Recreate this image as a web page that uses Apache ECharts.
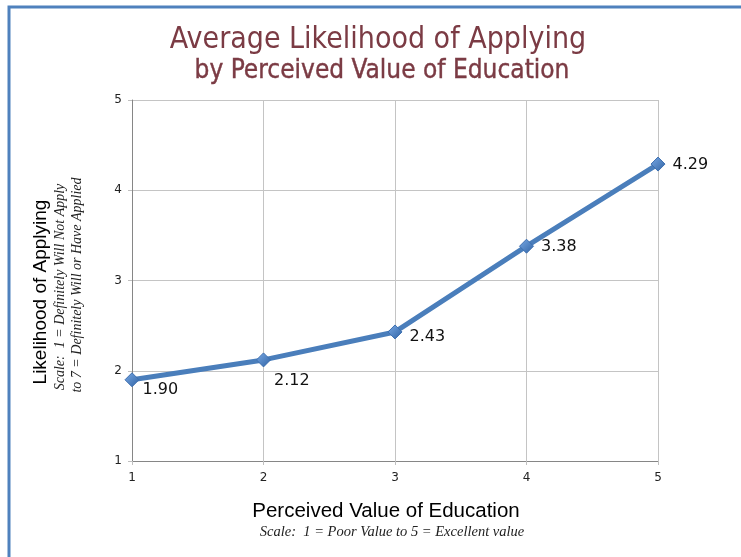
<!DOCTYPE html>
<html>
<head>
<meta charset="utf-8">
<script src="https://cdn.jsdelivr.net/npm/echarts@6/dist/echarts.min.js"></script>
<style>
  html, body { margin: 0; padding: 0; background: #ffffff; }
  #chart { width: 741px; height: 557px; }
</style>
</head>
<body>
<div id="chart"></div>
<script>
// Perceived value of education (1 = poor ... 5 = excellent)
const valueLevels = [1, 2, 3, 4, 5];
// Average likelihood of applying at each level
const likelihood = [1.90, 2.12, 2.43, 3.38, 4.29];
// Axis ranges
const xTicks = [1, 2, 3, 4, 5];
const yTicks = [1, 2, 3, 4, 5];

// Vertical nudge of each value label relative to its marker
const labelDrop = [10, 21, 5, 1, 1];

const points = valueLevels.map((x, i) => ({
  value: [x, likelihood[i]],
  label: { position: 'right', offset: [i < 2 ? -2 : 2, labelDrop[i]] }
}));

const chart = echarts.init(document.getElementById('chart'), null, { renderer: 'canvas' });

chart.setOption({
  backgroundColor: '#ffffff',
  animation: false,
  title: [
    {
      text: 'Average Likelihood of Applying',
      left: 373, top: 20, textAlign: 'center',
      textStyle: { color: '#7b3b44', fontSize: 30, fontWeight: 'normal', fontFamily: 'DejaVu Sans Condensed, DejaVu Sans, sans-serif' }
    },
    {
      text: 'by Perceived Value of Education',
      left: 377, top: 53, textAlign: 'center',
      textStyle: { color: '#7b3b44', fontSize: 26, fontWeight: 'normal', fontFamily: 'DejaVu Sans Condensed, DejaVu Sans, sans-serif',
        textBorderColor: '#7b3b44', textBorderWidth: 0.4 }
    }
  ],
  grid: { left: 132, right: 83, top: 100, bottom: 96, containLabel: false },
  xAxis: {
    type: 'value',
    min: xTicks[0], max: xTicks[xTicks.length - 1], interval: 1,
    axisLine: { show: true, lineStyle: { color: '#868686', width: 1 } },
    axisTick: { show: true, inside: false, length: 4, lineStyle: { color: '#bfbfbf' } },
    axisLabel: { color: '#222', fontSize: 12, margin: 11, fontFamily: 'DejaVu Sans, sans-serif' },
    splitLine: { show: true, lineStyle: { color: '#c4c4c4', width: 1 } }
  },
  yAxis: {
    type: 'value',
    min: yTicks[0], max: yTicks[yTicks.length - 1], interval: 1,
    axisLine: { show: true, lineStyle: { color: '#868686', width: 1 } },
    axisTick: { show: true, inside: false, length: 4, lineStyle: { color: '#bfbfbf' } },
    axisLabel: { color: '#222', fontSize: 12, margin: 10, fontFamily: 'DejaVu Sans, sans-serif' },
    splitLine: { show: true, lineStyle: { color: '#c4c4c4', width: 1 } }
  },
  graphic: [
    {
      type: 'rect', silent: true, z: 100,
      shape: { x: 9, y: 7, width: 800, height: 600 },
      style: { fill: 'none', stroke: '#4f81bd', lineWidth: 3 }
    },
    {
      type: 'text', x: 41, y: 292, rotation: Math.PI / 2,
      style: {
        text: 'Likelihood of Applying', fill: '#000',
        font: '19px "Liberation Sans", Arial, sans-serif',
        align: 'center', verticalAlign: 'middle'
      }
    },
    {
      type: 'text', x: 60, y: 287, rotation: Math.PI / 2,
      style: {
        text: 'Scale:  1 = Definitely Will Not Apply', fill: '#222',
        font: 'italic 14px "Liberation Serif", "Times New Roman", serif',
        align: 'center', verticalAlign: 'middle'
      }
    },
    {
      type: 'text', x: 77, y: 285, rotation: Math.PI / 2,
      style: {
        text: 'to 7 = Definitely Will or Have Applied', fill: '#222',
        font: 'italic 14px "Liberation Serif", "Times New Roman", serif',
        align: 'center', verticalAlign: 'middle'
      }
    },
    {
      type: 'text', x: 386, y: 511,
      style: {
        text: 'Perceived Value of Education', fill: '#000',
        font: '20.5px "Liberation Sans", Arial, sans-serif',
        align: 'center', verticalAlign: 'middle'
      }
    },
    {
      type: 'text', x: 392, y: 532,
      style: {
        text: 'Scale:  1 = Poor Value to 5 = Excellent value', fill: '#222',
        font: 'italic 14.5px "Liberation Serif", "Times New Roman", serif',
        align: 'center', verticalAlign: 'middle'
      }
    }
  ],
  series: [
    {
      type: 'line',
      data: points,
      symbol: 'diamond',
      symbolSize: 14,
      lineStyle: { color: '#4a7ebb', width: 5 },
      itemStyle: {
        color: new echarts.graphic.LinearGradient(0, 0, 1, 1, [
          { offset: 0, color: '#7aaae6' },
          { offset: 1, color: '#2f62a3' }
        ]),
        borderColor: '#3d6fb0', borderWidth: 1
      },
      label: {
        show: true,
        color: '#111',
        fontSize: 16,
        fontFamily: '"DejaVu Sans", sans-serif',
        formatter: p => p.value[1].toFixed(2)
      },
      z: 3
    }
  ]
});
</script>
</body>
</html>
